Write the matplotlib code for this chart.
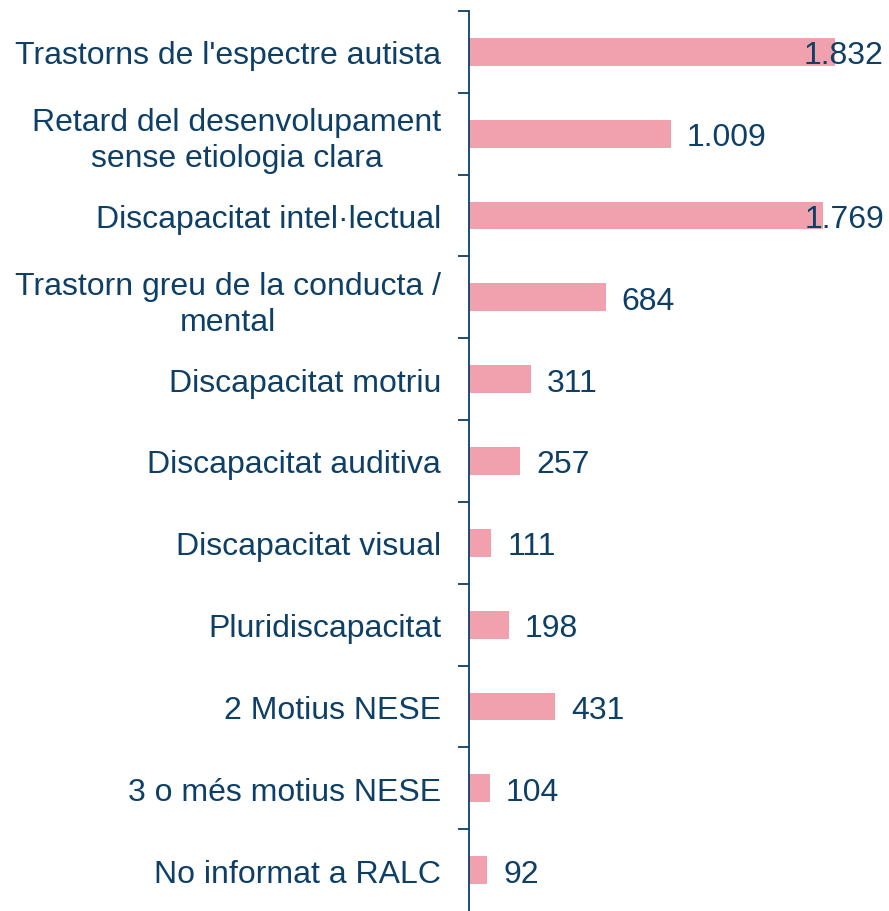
import matplotlib.pyplot as plt
import numpy as np

categories = [
    "Trastorns de l'espectre autista",
    "Retard del desenvolupament\nsense etiologia clara",
    "Discapacitat intel·lectual",
    "Trastorn greu de la conducta /\nmental",
    "Discapacitat motriu",
    "Discapacitat auditiva",
    "Discapacitat visual",
    "Pluridiscapacitat",
    "2 Motius NESE",
    "3 o més motius NESE",
    "No informat a RALC",
]
values = [1832, 1009, 1769, 684, 311, 257, 111, 198, 431, 104, 92]
value_labels = ["1.832", "1.009", "1.769", "684", "311", "257", "111", "198", "431", "104", "92"]

bar_color = "#F0A1AD"
text_color = "#0E3F66"

plt.rcParams["font.family"] = ["Liberation Sans", "DejaVu Sans"]

fig = plt.figure(figsize=(8.89, 9.12), dpi=100)
ax = fig.add_axes([469 / 889, 0.0, 420 / 889, 900 / 912])

n = len(categories)
y = np.arange(n)
ax.barh(y, values, height=0.34, color=bar_color, zorder=2)

x_max = 2100
ax.set_xlim(0, x_max)
ax.set_ylim(n - 0.5, -0.5)

offset = 80
for yi, v, lab in zip(y, values, value_labels):
    x = v + offset
    if x + 420 > x_max:
        ax.text(x_max - 25, yi, lab, ha="right", va="center_baseline",
                fontsize=23, color=text_color, zorder=3)
    else:
        ax.text(x, yi, lab, ha="left", va="center_baseline",
                fontsize=23, color=text_color, zorder=3)

ax.set_yticks(y)
ax.set_yticklabels(categories, fontsize=23, color=text_color,
                   ha="right", multialignment="center", linespacing=1.25)
ax.tick_params(axis="y", which="major", length=0, pad=20)
ax.set_yticks(np.arange(-0.5, n - 1, 1.0), minor=True)
ax.tick_params(axis="y", which="minor", length=8, width=1.3, color=text_color, direction="out")
ax.set_xticks([])

for side in ["top", "right", "bottom"]:
    ax.spines[side].set_visible(False)
ax.spines["left"].set_color(text_color)
ax.spines["left"].set_linewidth(1.3)

fig.savefig("out.png", dpi=100)
